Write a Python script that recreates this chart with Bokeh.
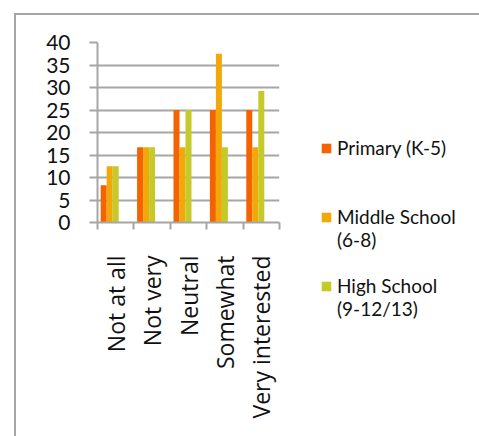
import numpy as np
from bokeh.plotting import figure
from bokeh.layouts import row
from bokeh.models import (ColumnDataSource, Range1d, LinearAxis,
                          FixedTicker, Legend, LegendItem)
from bokeh.embed import file_html
from bokeh.resources import INLINE

categories = ["Not at all", "Not very", "Neutral", "Somewhat", "Very interested"]
primary = [8.3, 16.7, 25.0, 25.0, 25.0]
middle = [12.5, 16.7, 16.7, 37.5, 16.7]
high = [12.5, 16.7, 25.0, 16.7, 29.2]
# legend lines: (first line, continuation line)
series_labels = [("Primary (K-5)", None), ("Middle School", "(6-8)"), ("High School", "(9-12/13)")]
colors = ["#f56200", "#f2a808", "#c4ca2a"]
y_ticks = [0, 5, 10, 15, 20, 25, 30, 35, 40]

GRAY = "#a6a6a6"
n = len(categories)
centers = np.arange(n) + 0.5

source = ColumnDataSource(dict(center=centers, primary=primary, middle=middle, high=high))

p = figure(width=290, height=421,
           x_range=Range1d(0, n), y_range=Range1d(0, 40),
           output_backend="svg", toolbar_location=None, x_axis_location=None,
           min_border_left=81, min_border_top=27, min_border_bottom=214, min_border_right=27)
p.outline_line_color = None
p.background_fill_color = "white"
p.border_fill_color = "white"

tick_axis = LinearAxis(ticker=FixedTicker(ticks=list(range(n + 1))),
                       major_tick_out=7, major_tick_in=0, minor_tick_out=0, minor_tick_in=0,
                       major_label_text_font_size="0px", major_label_standoff=0,
                       axis_line_color=GRAY, axis_line_width=2,
                       major_tick_line_color=GRAY, major_tick_line_width=2)
p.add_layout(tick_axis, "below")

label_axis = LinearAxis(ticker=FixedTicker(ticks=list(centers)),
                        major_label_overrides={float(c): lab for c, lab in zip(centers, categories)},
                        major_tick_out=0, major_tick_in=0, minor_tick_out=0, minor_tick_in=0,
                        axis_line_color=None, major_tick_line_color=None,
                        major_label_orientation=np.pi / 2,
                        major_label_text_font="Open Sans",
                        major_label_text_font_size="23px",
                        major_label_text_color="#111111",
                        major_label_standoff=26)
p.add_layout(label_axis, "below")

yax = p.yaxis[0]
yax.ticker = FixedTicker(ticks=y_ticks)
yax.major_tick_out = 8
yax.major_tick_in = 0
yax.minor_tick_out = 0
yax.minor_tick_in = 0
yax.axis_line_color = GRAY
yax.axis_line_width = 2
yax.major_tick_line_color = GRAY
yax.major_tick_line_width = 2
yax.major_label_text_font = "Lato"
yax.major_label_text_font_size = "21px"
yax.major_label_text_color = "#111111"
yax.major_label_standoff = 19

p.xgrid.visible = False
p.ygrid.ticker = FixedTicker(ticks=y_ticks)
p.ygrid.grid_line_color = GRAY
p.ygrid.grid_line_width = 2

offsets = [-0.33, -0.165, 0.0]
fields = ["primary", "middle", "high"]
for off, fld, col in zip(offsets, fields, colors):
    source.data["x_" + fld] = centers + off
    p.vbar(x="x_" + fld, top=fld, width=0.165, bottom=0,
           source=source, fill_color=col, line_color=None)

# legend panel (its own view range lies away from the data, so only the legend shows)
pl = figure(width=173, height=421, x_range=Range1d(-3, -2), y_range=Range1d(0, 1),
            output_backend="svg", toolbar_location=None,
            x_axis_location=None, y_axis_location=None,
            min_border_left=14, min_border_right=0, min_border_top=121, min_border_bottom=0)
pl.grid.visible = False
pl.outline_line_color = None
pl.background_fill_color = "white"
pl.border_fill_color = "white"

for fig in (p, pl):
    if "frame_align" in fig.properties():
        fig.frame_align = False

blank_r = pl.vbar(x="x_primary", top="primary", width=0.1, source=source,
                  fill_alpha=0, line_alpha=0)

items = []
gap_before = [0, 2, 1]
for (first, second), col, gap, fld in zip(series_labels, colors, gap_before, fields):
    for _ in range(gap):
        items.append(LegendItem(label=" ", renderers=[blank_r]))
    r = pl.vbar(x="x_" + fld, top=fld, width=0.165, source=source,
                fill_color=col, line_color=None)
    items.append(LegendItem(label=first, renderers=[r]))
    if second:
        items.append(LegendItem(label=second, renderers=[blank_r]))

legend = Legend(items=items, location="top_left", glyph_width=12, glyph_height=12,
                label_standoff=5, spacing=0, padding=0, margin=0, label_height=23,
                border_line_color=None, background_fill_alpha=0,
                label_text_font="Lato", label_text_font_size="19px",
                label_text_line_height=1.0,
                label_text_color="#111111")
pl.add_layout(legend, "center")

layout = row(p, pl)
layout.styles = {"margin-left": "14px", "margin-top": "13px",
                 "border-left": "2px solid #a6a6a6", "border-top": "2px solid #a6a6a6"}

open("out.html", "w").write(file_html(layout, INLINE))
